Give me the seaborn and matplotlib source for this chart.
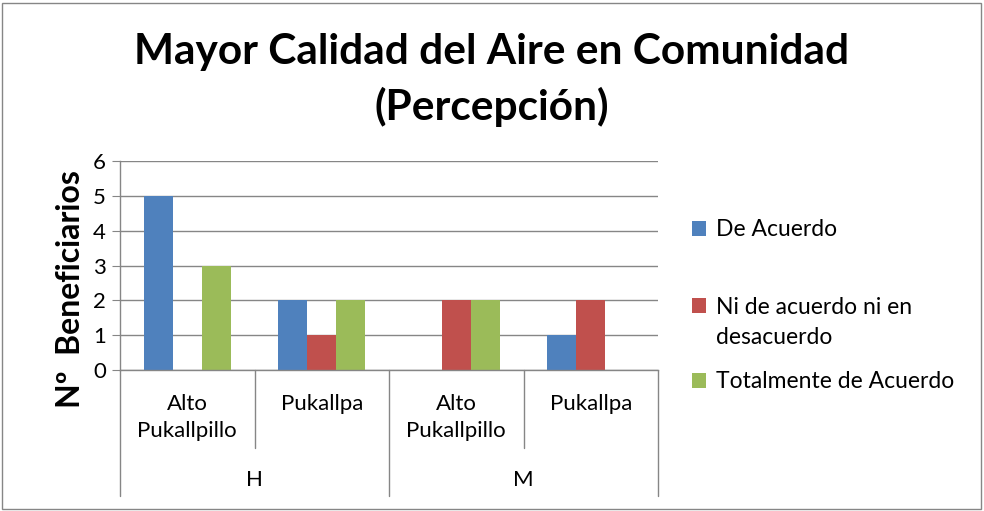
import pandas as pd
import matplotlib
matplotlib.use('Agg')
import matplotlib.pyplot as plt
import matplotlib.transforms as mtransforms
from matplotlib.patches import Patch, Rectangle
import seaborn as sns

# Data
groups = ['H', 'H', 'M', 'M']
places = ['Alto\nPukallpillo', 'Pukallpa', 'Alto\nPukallpillo', 'Pukallpa']
series = ['De Acuerdo', 'Ni de acuerdo ni en\ndesacuerdo', 'Totalmente de Acuerdo']
de_acuerdo = [5, 2, 0, 1]
ni_de_acuerdo = [0, 1, 2, 2]
totalmente = [3, 2, 2, 0]
colors = ['#4F81BD', '#C0504D', '#9BBB59']

slots = [f'{g}|{p}' for g, p in zip(groups, places)]
rows = []
for name, vals in zip(series, [de_acuerdo, ni_de_acuerdo, totalmente]):
    for s, v in zip(slots, vals):
        rows.append({'slot': s, 'serie': name, 'valor': v})
df = pd.DataFrame(rows)

sns.set_style('white')
plt.rcParams['font.family'] = ['Lato', 'DejaVu Sans']
plt.rcParams['text.color'] = 'black'
plt.rcParams['ytick.labelcolor'] = 'black'

grey = '#868686'
fig = plt.figure(figsize=(9.84, 5.11), dpi=100)
ax = fig.add_axes([120 / 984, 1 - 370 / 511, 538 / 984, 209 / 511])

sns.barplot(data=df, x='slot', y='valor', hue='serie', order=slots, hue_order=series,
            palette=colors, saturation=1, width=0.65, linewidth=0, legend=False, ax=ax)

ax.set_xlim(-0.5, 3.5)
ax.set_ylim(0, 6)
ax.set_yticks(range(0, 7))
ax.yaxis.grid(True, color=grey, lw=1)
ax.set_axisbelow(True)
ax.set_xlabel('')
ax.set_ylabel('')
ax.set_xticks([])
for side in ['top', 'right']:
    ax.spines[side].set_visible(False)
for side in ['left', 'bottom']:
    ax.spines[side].set_color(grey)
    ax.spines[side].set_linewidth(1)
ax.tick_params(axis='y', length=6, color=grey, labelsize=16, labelcolor='black', pad=4,
               direction='out', left=True)

# category axis (two levels)
trans = mtransforms.blended_transform_factory(ax.transData, ax.transAxes)
for i, p in enumerate(places):
    ax.text(i, -0.115, p, transform=trans, ha='center', va='top', fontsize=16, linespacing=1.45)
for b in [-0.5, 0.5, 1.5, 2.5, 3.5]:
    bottom = -0.603 if b in (-0.5, 1.5, 3.5) else -0.373
    ax.plot([b, b], [0, bottom], transform=trans, color=grey, lw=1, clip_on=False)
for j, g in enumerate(['H', 'M']):
    ax.text(2 * j + 0.5, -0.526, g, transform=trans, ha='center', va='center', fontsize=16)

# titles
fig.text(0.5, 1 - 52 / 511, 'Mayor Calidad del Aire en Comunidad', ha='center', va='center',
         fontsize=30.5, fontweight='bold')
fig.text(0.5, 1 - 107 / 511, '(Percepción)', ha='center', va='center',
         fontsize=30.5, fontweight='bold')
fig.text(70 / 984, 1 - 289 / 511, 'Nº  Beneficiarios', rotation=90, ha='center', va='center',
         fontsize=23, fontweight='bold')

# legend entries (second line of the middle entry sits under its first line, as in Excel)
legend_y = [230, 307, 382]
for name, c, y in zip(series, colors, legend_y):
    first = name.split('\n')[0]
    fig.legend(handles=[Patch(facecolor=c, edgecolor='none')], labels=[first],
               loc='center left', bbox_to_anchor=(692 / 984, 1 - y / 511),
               frameon=False, fontsize=16.5, handlelength=0.6, handleheight=0.6,
               handletextpad=0.45, borderpad=0, borderaxespad=0)
    if '\n' in name:
        fig.text(716 / 984, 1 - (y + 30) / 511, name.split('\n')[1], ha='left', va='center',
                 fontsize=16.5)

fig.patches.append(Rectangle((2 / 984, 2 / 511), 979 / 984, 506 / 511, transform=fig.transFigure,
                             fill=False, edgecolor=grey, lw=1))

plt.savefig('out.png', dpi=100)
